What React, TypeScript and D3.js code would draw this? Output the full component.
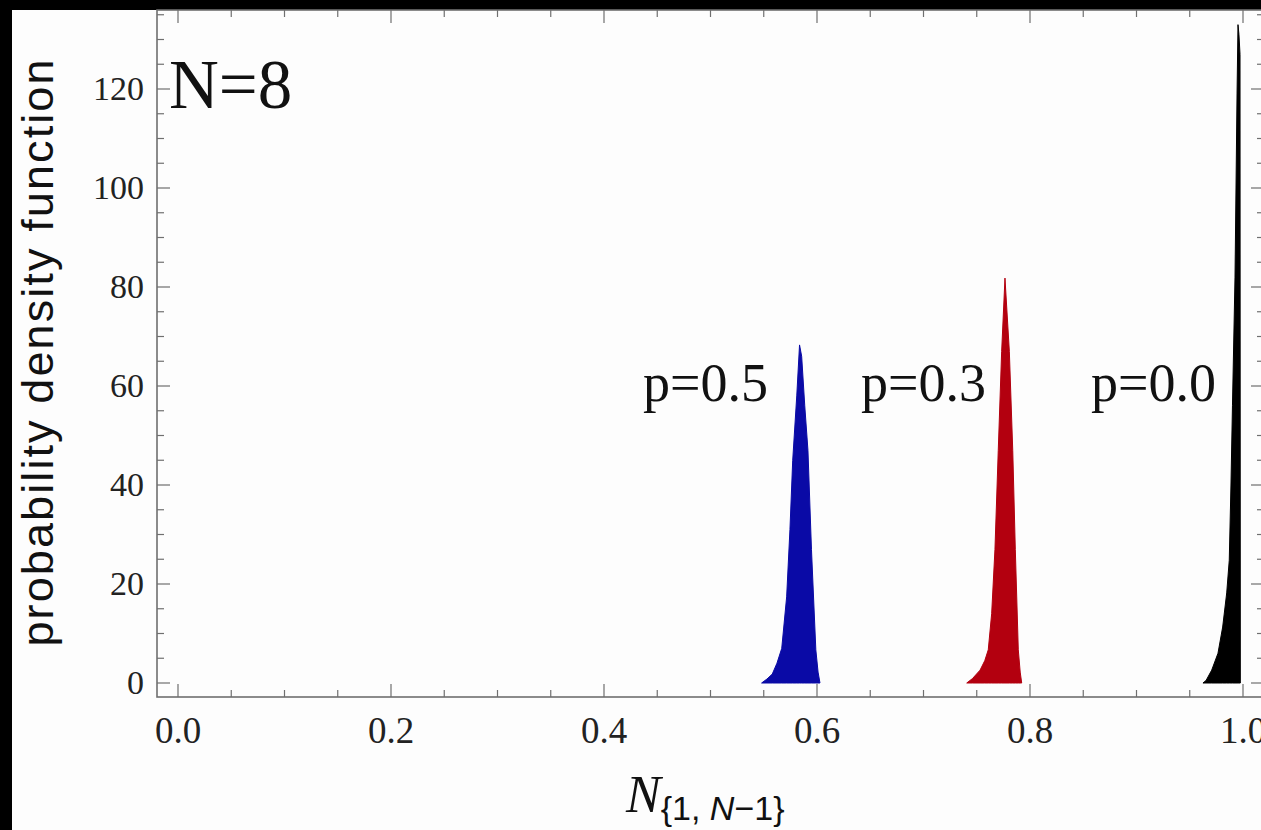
import React, { useEffect, useRef } from 'react';
import * as d3 from 'd3';

// density estimates (x = N_{1,N-1}, y = pdf)
const blueX = [0.548, 0.553, 0.558, 0.5624, 0.5669, 0.5715, 0.5746, 0.5772, 0.581, 0.5836, 0.5856, 0.5885, 0.5915, 0.5948, 0.5989, 0.601, 0.6028];
const blueY = [0, 0.8, 1.8, 4, 7, 17.4, 31, 45, 58, 68.3, 66, 56, 47, 27, 6.7, 2.2, 0];

const redX = [0.7406, 0.746, 0.7531, 0.7575, 0.7608, 0.764, 0.7671, 0.7702, 0.7734, 0.7765, 0.7806, 0.7838, 0.7862, 0.789, 0.7908, 0.7922];
const redY = [0, 0.9, 2.6, 4.5, 6.7, 14, 27, 47, 67, 81.8, 67, 47, 27, 6.7, 2.2, 0];

const blackX = [0.9624, 0.9653, 0.9706, 0.9765, 0.9809, 0.9847, 0.9871, 0.9887, 0.9901, 0.9925, 0.9944, 0.9953, 0.9962, 0.9972, 0.9975];
const blackY = [0, 0.5, 2.6, 6, 11.3, 18.2, 24.8, 40, 56, 82, 119, 133, 131, 127, 0];

const seriesNames = ['p=0.5', 'p=0.3', 'p=0.0'];
const seriesColors = ['#0a0aa6', '#b3000f', '#000000'];

const xTicks = [0, 0.2, 0.4, 0.6, 0.8, 1.0];
const xTickLabels = ['0.0', '0.2', '0.4', '0.6', '0.8', '1.0'];
const yTicks = [0, 20, 40, 60, 80, 100, 120];
const yTickLabels = ['0', '20', '40', '60', '80', '100', '120'];

export default function App() {
  const svgRef = useRef<SVGSVGElement>(null);

  useEffect(() => {
    const W = 1261;
    const H = 830;
    const svg = d3.select(svgRef.current).attr('width', W).attr('height', H);
    svg.selectAll('*').remove();

    // frame box (right edge falls just outside the picture)
    const fL = 157, fR = 1264, fT = 10, fB = 697;

    const x = d3.scaleLinear().domain([0, 1]).range([178, 1243]);
    const y = d3.scaleLinear().domain([0, 120]).range([683, 89]);

    svg.append('rect').attr('width', W).attr('height', H).attr('fill', '#fdfdfd');
    svg.append('rect').attr('width', 12).attr('height', H).attr('fill', '#000');
    svg.append('rect').attr('width', W).attr('height', 10).attr('fill', '#000');

    const series = [
      { xs: blueX, ys: blueY },
      { xs: redX, ys: redY },
      { xs: blackX, ys: blackY },
    ];
    const area = d3.area<[number, number]>()
      .x(d => x(d[0]))
      .y0(y(0))
      .y1(d => y(d[1]));
    series.forEach((s, i) => {
      const pts = s.xs.map((v, j) => [v, s.ys[j]] as [number, number]);
      svg.append('path')
        .attr('d', area(pts))
        .attr('fill', seriesColors[i])
        .attr('stroke', seriesColors[i])
        .attr('stroke-width', 1);
    });

    // frame + ticks
    const axisCol = '#6f6f6f';
    const g = svg.append('g').attr('stroke', axisCol).attr('fill', 'none');
    g.append('rect').attr('x', fL).attr('y', fT).attr('width', fR - fL).attr('height', fB - fT).attr('stroke-width', 1.6);

    const xMinor = d3.range(0, 1.0001, 0.05);
    xMinor.forEach(v => {
      const major = Math.abs(v * 5 - Math.round(v * 5)) < 1e-6;
      const len = major ? 13 : 7;
      g.append('line').attr('x1', x(v)).attr('x2', x(v)).attr('y1', fB).attr('y2', fB - len).attr('stroke-width', 1.2);
      g.append('line').attr('x1', x(v)).attr('x2', x(v)).attr('y1', fT).attr('y2', fT + len).attr('stroke-width', 1.2);
    });
    const yMinor = d3.range(0, 136, 5);
    yMinor.forEach(v => {
      const major = v % 20 === 0;
      const len = major ? 13 : 7;
      g.append('line').attr('x1', fL).attr('x2', fL + len).attr('y1', y(v)).attr('y2', y(v)).attr('stroke-width', 1.2);
      g.append('line').attr('x1', fR).attr('x2', fR - len).attr('y1', y(v)).attr('y2', y(v)).attr('stroke-width', 1.2);
    });

    const serif = "'Liberation Serif', 'Times New Roman', serif";
    const sans = "'Liberation Sans', Arial, sans-serif";

    xTicks.forEach((v, i) => {
      svg.append('text')
        .attr('x', x(v)).attr('y', 743)
        .attr('text-anchor', 'middle')
        .attr('font-family', serif).attr('font-size', 37).attr('fill', '#222')
        .text(xTickLabels[i]);
    });
    yTicks.forEach((v, i) => {
      svg.append('text')
        .attr('x', 144).attr('y', y(v) + 11)
        .attr('text-anchor', 'end')
        .attr('font-family', serif).attr('font-size', 34).attr('fill', '#222')
        .text(yTickLabels[i]);
    });

    svg.append('text')
      .attr('x', 169).attr('y', 108)
      .attr('font-family', serif).attr('font-size', 69).attr('fill', '#111')
      .text('N=8');

    const labelEnds = [768, 986, 1216];
    seriesNames.forEach((name, i) => {
      svg.append('text')
        .attr('x', labelEnds[i]).attr('y', 401)
        .attr('text-anchor', 'end')
        .attr('font-family', serif).attr('font-size', 54).attr('fill', '#111')
        .text(name);
    });

    svg.append('text')
      .attr('transform', 'translate(53,353) rotate(-90)')
      .attr('text-anchor', 'middle')
      .attr('font-family', sans).attr('font-size', 45).attr('fill', '#111')
      .attr('textLength', 587).attr('lengthAdjust', 'spacing')
      .text('probability density function');

    const xl = svg.append('text').attr('x', 626).attr('y', 812).attr('fill', '#111');
    xl.append('tspan')
      .attr('font-family', serif).attr('font-style', 'italic').attr('font-size', 52)
      .text('N');
    xl.append('tspan')
      .attr('font-family', sans).attr('font-size', 34).attr('dy', 8)
      .text('{1, ');
    xl.append('tspan')
      .attr('font-family', sans).attr('font-style', 'italic').attr('font-size', 34)
      .text('N');
    xl.append('tspan')
      .attr('font-family', sans).attr('font-size', 34)
      .text('\u22121}');
  }, []);

  return (
    <svg ref={svgRef} style={{ position: 'absolute', left: 0, top: 0, display: 'block' }}></svg>
  );
}
